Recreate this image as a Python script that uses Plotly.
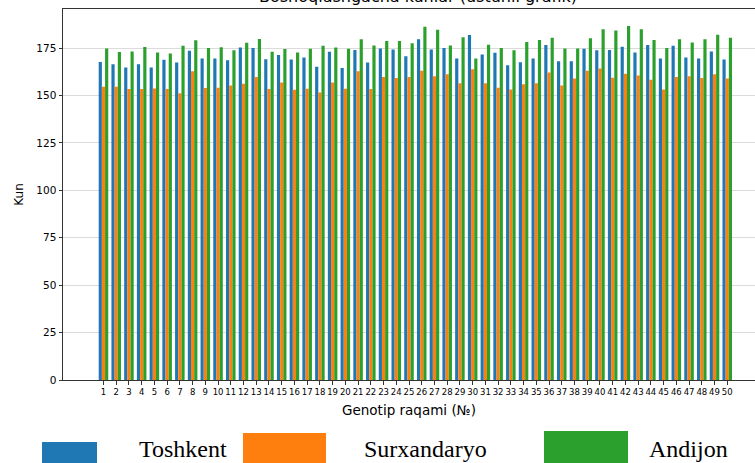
import plotly.graph_objects as go

genotypes = list(range(1, 51))
tick_labels = [str(g) for g in genotypes]

toshkent = [167.7, 166.5, 164.7, 166.5, 164.7, 168.8, 167.4, 173.6, 169.5, 169.5,
            168.6, 175.3, 175.0, 169.1, 171.3, 169.0, 170.0, 165.1, 173.0, 164.5,
            174.0, 167.4, 174.8, 174.3, 170.7, 179.6, 174.3, 175.0, 169.5, 181.9,
            171.6, 172.5, 166.0, 167.5, 169.5, 176.6, 168.1, 168.1, 174.7, 173.8,
            174.0, 175.7, 172.7, 176.6, 169.5, 176.2, 170.0, 169.5, 173.2, 169.0]
surxandaryo = [154.6, 154.6, 153.4, 153.4, 153.7, 153.4, 151.2, 162.8, 153.9, 154.1,
               155.3, 156.2, 159.7, 153.4, 156.8, 153.0, 153.6, 151.6, 156.8, 153.6,
               162.8, 153.4, 159.7, 159.2, 159.7, 163.0, 160.1, 161.2, 156.4, 163.8,
               156.4, 154.1, 153.2, 155.9, 156.4, 162.1, 155.3, 158.9, 163.0, 164.2,
               159.4, 161.5, 160.5, 158.3, 153.2, 159.7, 160.1, 159.2, 161.2, 159.0]
andijon = [174.8, 172.9, 173.2, 175.5, 172.7, 172.2, 176.2, 179.1, 175.0, 175.4,
           173.8, 177.8, 179.8, 173.0, 174.5, 172.7, 174.6, 176.2, 175.3, 174.6,
           179.6, 176.4, 178.7, 178.7, 177.5, 186.2, 184.7, 176.4, 180.7, 169.5,
           176.8, 175.0, 173.8, 178.2, 179.3, 180.5, 174.8, 174.8, 180.2, 184.9,
           184.2, 186.7, 184.9, 179.3, 175.0, 179.6, 178.0, 179.6, 182.0, 180.5]

series = [("Toshkent", toshkent, "#1f77b4"),
          ("Surxandaryo", surxandaryo, "#ff7f0e"),
          ("Andijon", andijon, "#2ca02c")]

title_text = "Boshoqlashgacha kunlar (ustunli grafik)"
x_title = "Genotip raqami (№)"
y_title = "Kun"

W, H = 755, 463
L, R, T, B = 63, 755, 9, 380  # plot area in pixels

fig = go.Figure()
for name, vals, col in series:
    fig.add_trace(go.Bar(x=genotypes, y=vals, name=name, marker_color=col,
                         marker_line_width=0, showlegend=False))

def px2x(px):
    return (px - L) / (R - L)

def py2y(py):
    return (B - py) / (B - T)

# legend drawn as in the reference (large swatches with serif labels)
legend_items = [
    ("Toshkent", "#1f77b4", (42, 442, 97, 470), 137),
    ("Surxandaryo", "#ff7f0e", (243, 433, 326, 470), 362),
    ("Andijon", "#2ca02c", (544, 431, 628, 470), 647),
]
shapes = []
annotations = []
for name, col, (x0, y0, x1, y1), tx in legend_items:
    shapes.append(dict(type="rect", xref="paper", yref="paper",
                       x0=px2x(x0), x1=px2x(x1), y0=py2y(y1), y1=py2y(y0),
                       fillcolor=col, line=dict(width=0), layer="above"))
    annotations.append(dict(text=name, xref="paper", yref="paper",
                            x=px2x(tx), y=py2y(449), xanchor="left", yanchor="middle",
                            showarrow=False,
                            font=dict(family="Liberation Serif", size=24, color="black")))

annotations.append(dict(text=title_text, xref="paper", yref="paper",
                        x=px2x(418), y=py2y(8), xanchor="center", yanchor="bottom",
                        showarrow=False,
                        font=dict(family="DejaVu Sans", size=16, color="black")))

fig.update_layout(
    width=W, height=H,
    margin=dict(l=L, r=W - R, t=T, b=H - B, pad=0),
    paper_bgcolor="white", plot_bgcolor="white",
    barmode="group", bargap=0.25, bargroupgap=0,
    shapes=shapes, annotations=annotations,
    font=dict(family="DejaVu Sans", color="black"),
)
fig.update_xaxes(
    range=[-2.18, 52.18], tickmode="array", tickvals=genotypes, ticktext=tick_labels,
    tickangle=0,
    tickfont=dict(size=8.5, family="DejaVu Sans"), ticks="outside", ticklen=3.5,
    tickcolor="#333", showgrid=False, zeroline=False,
    showline=True, linecolor="#333", linewidth=1, mirror=True,
    title=dict(text=x_title, font=dict(size=13.5, family="DejaVu Sans"), standoff=9),
)
fig.update_yaxes(
    range=[0, 195.6], tickvals=[0, 25, 50, 75, 100, 125, 150, 175],
    tickfont=dict(size=10.5, family="DejaVu Sans"), ticks="outside", ticklen=3.5,
    tickcolor="#333", showgrid=True, gridcolor="rgba(176,176,176,0.45)", gridwidth=1,
    zeroline=False, showline=True, linecolor="#333", linewidth=1,
    title=dict(text=y_title, font=dict(size=12, family="DejaVu Sans"), standoff=10),
)

fig.write_html("out.html", config={"displayModeBar": False},
               post_script="document.body.style.margin='0';document.body.style.overflow='hidden';")
